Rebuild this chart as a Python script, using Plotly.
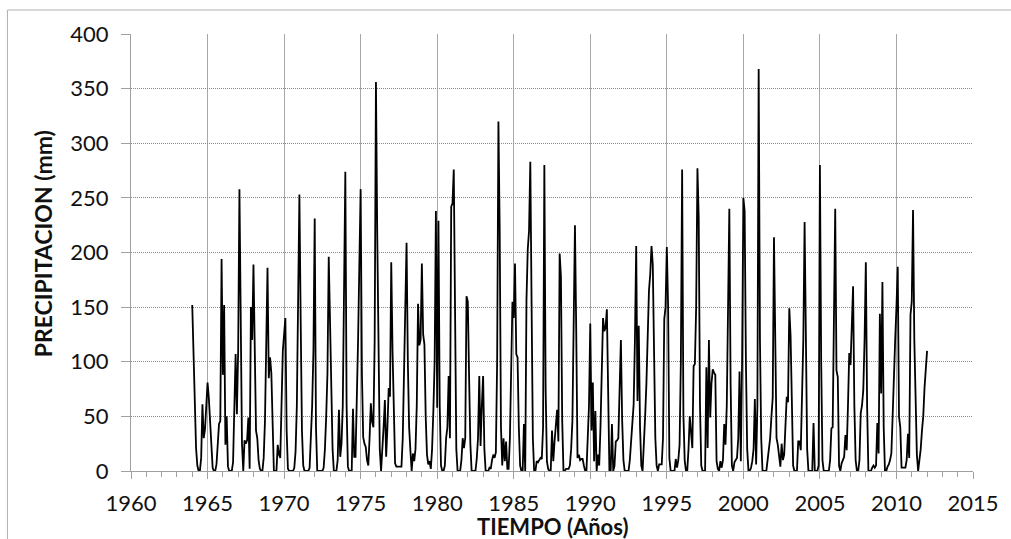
import plotly.graph_objects as go

# Monthly precipitation (mm), January to December, starting in January 1964
START_YEAR = 1964

precip_1964_1969 = [
    152, 107, 64, 21, 5, 0, 0, 12, 61, 30, 38, 60,
    81, 67, 43, 18, 3, 0, 0, 6, 30, 43, 46, 194,
    88, 152, 24, 50, 4, 0, 0, 0, 8, 52, 107, 52,
    110, 258, 115, 25, 0, 28, 25, 28, 49, 2, 150, 120,
    189, 120, 37, 30, 10, 2, 0, 0, 12, 45, 104, 186,
    85, 104, 90, 26, 0, 0, 0, 24, 15, 12, 50, 110,
]

precip_1970_1979 = [
    125, 140, 37, 2, 0, 0, 0, 0, 3, 18, 60, 178,
    253, 138, 37, 5, 0, 0, 0, 0, 3, 30, 60, 110,
    231, 40, 0, 0, 0, 0, 0, 3, 20, 50, 90, 196,
    129, 68, 20, 0, 0, 0, 10, 56, 13, 25, 60, 150,
    274, 60, 4, 0, 0, 0, 57, 13, 13, 60, 120, 190,
    258, 90, 31, 25, 22, 10, 5, 30, 62, 45, 40, 120,
    356, 219, 135, 20, 0, 28, 40, 65, 13, 40, 76, 68,
    191, 110, 40, 7, 4, 4, 4, 4, 4, 30, 90, 120,
    209, 100, 40, 19, 0, 16, 9, 20, 60, 153, 115, 120,
    190, 125, 116, 50, 15, 6, 9, 2, 20, 55, 100, 238,
]

precip_1980_1989 = [
    58, 229, 60, 5, 0, 0, 5, 30, 40, 87, 30, 242,
    245, 276, 100, 20, 0, 0, 0, 10, 30, 21, 30, 160,
    155, 87, 25, 0, 0, 0, 0, 11, 30, 87, 23, 60,
    87, 20, 0, 0, 0, 3, 2, 10, 15, 12, 17, 100,
    320, 221, 40, 5, 30, 9, 27, 2, 2, 30, 114, 155,
    140, 190, 107, 104, 40, 5, 0, 0, 43, 0, 157, 203,
    220, 283, 152, 30, 0, 0, 9, 8, 10, 12, 11, 40,
    280, 76, 9, 2, 0, 0, 37, 9, 27, 40, 56, 27,
    199, 178, 46, 0, 0, 2, 2, 2, 5, 20, 46, 131,
    225, 128, 12, 15, 10, 11, 11, 5, 0, 0, 37, 60,
]

precip_1990_1999 = [
    135, 37, 81, 9, 55, 0, 15, 5, 40, 100, 140, 128,
    131, 148, 60, 0, 0, 43, 0, 5, 27, 28, 30, 70,
    120, 46, 10, 0, 0, 0, 0, 10, 30, 52, 61, 120,
    206, 64, 133, 40, 5, 0, 34, 50, 80, 125, 165, 180,
    206, 189, 100, 30, 5, 0, 6, 6, 6, 30, 139, 150,
    205, 152, 12, 0, 0, 0, 0, 11, 3, 10, 24, 100,
    276, 52, 10, 0, 0, 20, 50, 35, 21, 96, 98, 150,
    277, 232, 60, 5, 0, 0, 0, 95, 21, 120, 49, 80,
    93, 90, 88, 9, 2, 0, 9, 3, 10, 43, 24, 60,
    134, 240, 80, 5, 0, 8, 10, 12, 30, 91, 9, 100,
]

precip_2000_2009 = [
    250, 238, 100, 20, 0, 0, 3, 9, 20, 66, 6, 60,
    368, 120, 30, 0, 0, 0, 0, 10, 21, 30, 50, 67,
    214, 90, 30, 24, 15, 4, 25, 10, 15, 45, 68, 63,
    149, 124, 50, 5, 0, 0, 0, 27, 27, 19, 60, 120,
    228, 83, 20, 0, 0, 0, 0, 44, 0, 0, 0, 5,
    280, 100, 10, 0, 0, 0, 0, 0, 10, 39, 40, 120,
    240, 92, 86, 5, 0, 7, 10, 13, 33, 19, 60, 108,
    97, 130, 169, 60, 10, 0, 0, 10, 53, 60, 74, 120,
    191, 60, 0, 0, 0, 3, 5, 3, 5, 44, 16, 144,
    71, 173, 40, 0, 0, 4, 6, 10, 16, 50, 95, 120,
]

precip_2010_2012 = [
    150, 187, 50, 40, 3, 3, 3, 3, 10, 34, 12, 143,
    155, 239, 120, 76, 15, 0, 9, 20, 37, 50, 76, 90,
    110,
]

precip = (precip_1964_1969 + precip_1970_1979 + precip_1980_1989
          + precip_1990_1999 + precip_2000_2009 + precip_2010_2012)
time_years = [START_YEAR + i / 12 for i in range(len(precip))]

FONT = "Lato"
TEXT = "#111111"
AXIS_GREY = "#A0A0A0"

W, H = 1011, 539
L, R, T, B = 131, 35, 34, 68


def px_x(x):
    """Pixel column -> paper x coordinate."""
    return (x - L) / (W - L - R)


def px_y(y):
    """Pixel row -> paper y coordinate."""
    return (H - B - y) / (H - T - B)


fig = go.Figure(
    go.Scatter(
        x=time_years,
        y=precip,
        mode="lines",
        line=dict(color="black", width=1.8),
        hoverinfo="x+y",
    )
)

fig.update_layout(
    width=W,
    height=H,
    margin=dict(l=L, r=R, t=T, b=B),
    paper_bgcolor="white",
    plot_bgcolor="white",
    showlegend=False,
    font=dict(family=FONT, color=TEXT, size=22),
    shapes=[
        # light frame around the whole chart
        dict(
            type="rect", xref="paper", yref="paper",
            x0=px_x(7), x1=1.2, y0=-0.3, y1=px_y(10),
            line=dict(color="#B0B0B0", width=1), fillcolor="rgba(0,0,0,0)",
            layer="below",
        )
    ],
    annotations=[
        dict(
            text="<b>TIEMPO (Años)</b>", xref="paper", yref="paper",
            x=0.5, y=px_y(526.8), xanchor="center", yanchor="middle",
            showarrow=False, font=dict(family=FONT, size=22, color=TEXT),
        ),
        dict(
            text="<b>PRECIPITACION (mm)</b>", xref="paper", yref="paper",
            x=px_x(43), y=px_y(244), xanchor="center", yanchor="middle",
            textangle=-90, showarrow=False,
            font=dict(family=FONT, size=23, color=TEXT),
        ),
    ],
)

fig.update_xaxes(
    range=[1960, 2015], tick0=1960, dtick=5,
    showgrid=True, gridcolor="#A8A8A8", gridwidth=1,
    showline=True, linecolor=AXIS_GREY, linewidth=1.3,
    ticks="outside", ticklen=7, tickcolor=AXIS_GREY,
    minor=dict(dtick=1, ticks="outside", ticklen=5, tickcolor=AXIS_GREY, showgrid=False),
    tickfont=dict(family=FONT, size=22, color=TEXT),
    ticklabelstandoff=5, zeroline=False,
)

fig.update_yaxes(
    range=[0, 400], tick0=0, dtick=50,
    showgrid=True, gridcolor="#8A8A8A", gridwidth=1, griddash="1px,1px",
    showline=True, linecolor=AXIS_GREY, linewidth=1.3,
    ticks="outside", ticklen=9, tickcolor=AXIS_GREY,
    tickfont=dict(family=FONT, size=22, color=TEXT),
    ticklabelstandoff=8, zeroline=False,
)

fig.write_html("out.html")
